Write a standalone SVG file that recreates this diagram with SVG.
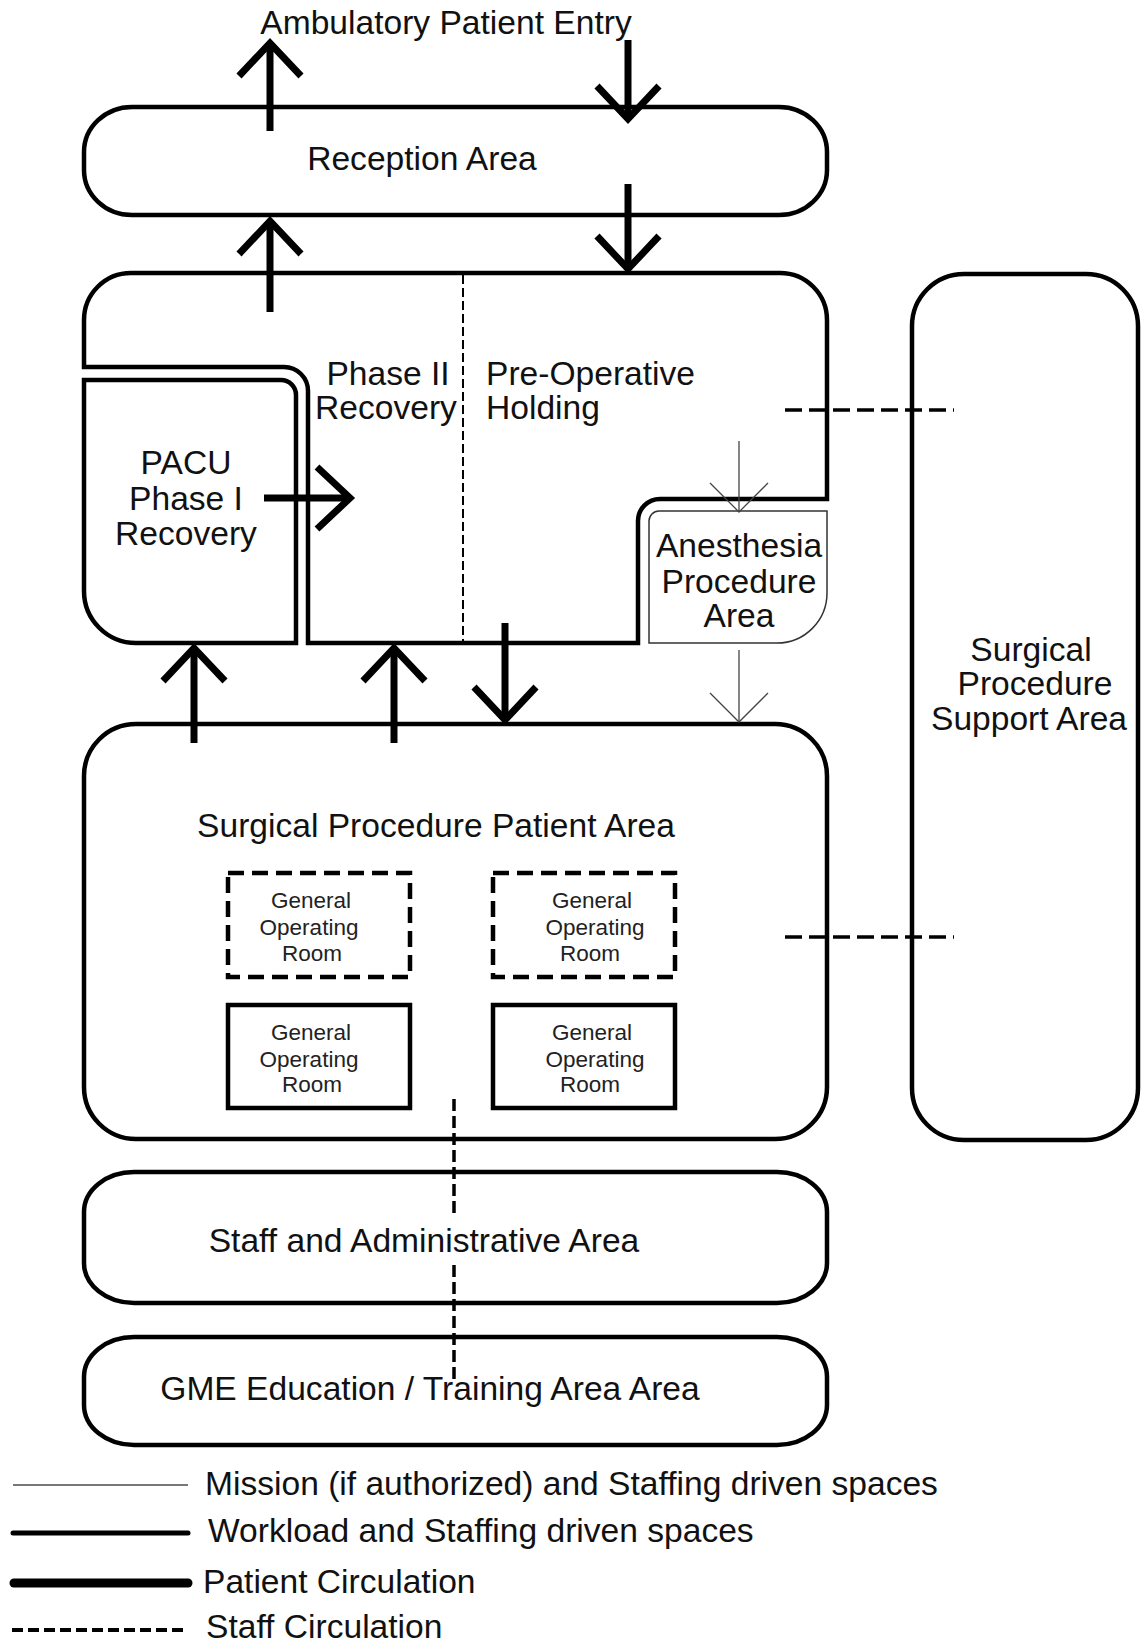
<svg xmlns="http://www.w3.org/2000/svg" width="1141" height="1642" viewBox="0 0 1141 1642">
<style>
text{font-family:"Liberation Sans",Arial,sans-serif;font-size:33.6px;fill:#111;text-anchor:middle}
.box{fill:none;stroke:#000;stroke-width:4.5}
.thin{fill:none;stroke:#333;stroke-width:1.5}
.ord{stroke-dasharray:16 8}
.orl{font-size:22.5px;fill:#222}
.pat{stroke:#000;stroke-width:7;fill:none;marker-end:url(#chev)}
.mis{stroke:#444;stroke-width:1.3;fill:none;marker-end:url(#chevThin)}
.staff{stroke:#000;stroke-width:3.5;stroke-dasharray:17 7;fill:none}
.vstaff{stroke:#000;stroke-width:3.5;stroke-dasharray:12 5;fill:none}
.div{stroke:#000;stroke-width:2;stroke-dasharray:9 4;fill:none}
.start{text-anchor:start}
</style>
<defs>
<marker id="chev" markerUnits="userSpaceOnUse" orient="auto" refX="0" refY="0" markerWidth="80" markerHeight="80" viewBox="-40 -40 80 80" overflow="visible">
<path d="M-33,-31 L0,0 L-33,31" fill="none" stroke="#000" stroke-width="7"/>
</marker>
<marker id="chevThin" markerUnits="userSpaceOnUse" orient="auto" refX="0" refY="0" markerWidth="80" markerHeight="80" viewBox="-40 -40 80 80" overflow="visible">
<path d="M-29,-29 L0,0 L-29,29" fill="none" stroke="#444" stroke-width="1.3"/>
</marker>
</defs>
<rect width="1141" height="1642" fill="#fff"/>

<text id="entry" x="446" y="34">Ambulatory Patient Entry</text>

<g id="reception">
<rect class="box" x="84" y="107" width="743" height="108" rx="48" ry="45"/>
<text x="422" y="170">Reception Area</text>
</g>

<g id="preop">
<path class="box" d="M84,320 A47,47 0 0 1 131,273 L780,273 A47,47 0 0 1 827,320 L827,499 L660,499 A22,22 0 0 0 638,521 L638,643 L308,643 L308,391 A24,24 0 0 0 284,367 L84,367 Z"/>
<line class="div" x1="463" y1="275" x2="463" y2="642"/>
<text x="388" y="385">Phase II<tspan x="386" dy="34">Recovery</tspan></text>
<text class="start" x="486" y="385">Pre-Operative<tspan x="486" dy="34">Holding</tspan></text>
</g>

<g id="pacu">
<path class="box" d="M84,380 L281,380 A15,15 0 0 1 296,395 L296,643 L136,643 A52,52 0 0 1 84,591 Z"/>
<text x="186" y="474">PACU<tspan x="186" dy="36">Phase I</tspan><tspan x="186" dy="35">Recovery</tspan></text>
</g>

<g id="anesthesia">
<path class="thin" d="M649,521 A10,10 0 0 1 659,511 L827,511 L827,593 A50,50 0 0 1 777,643 L649,643 Z"/>
<text x="739" y="557">Anesthesia<tspan x="739" dy="36">Procedure</tspan><tspan x="739" dy="34">Area</tspan></text>
</g>

<g id="support">
<rect class="box" x="912" y="274" width="226" height="866" rx="52" ry="52"/>
<text x="1031" y="661">Surgical<tspan x="1035" dy="34">Procedure</tspan><tspan x="1029" dy="35">Support Area</tspan></text>
</g>

<g id="surgical">
<rect class="box" x="84" y="724" width="743" height="415" rx="52" ry="52"/>
<text x="436" y="837">Surgical Procedure Patient Area</text>
</g>

<g id="or1">
<rect class="box ord" x="228" y="873" width="182" height="104"/>
<text class="orl" x="311" y="908">General<tspan x="309" dy="27">Operating</tspan><tspan x="312" dy="26">Room</tspan></text>
</g>
<g id="or2">
<rect class="box ord" x="493" y="873" width="182" height="104"/>
<text class="orl" x="592" y="908">General<tspan x="595" dy="27">Operating</tspan><tspan x="590" dy="26">Room</tspan></text>
</g>
<g id="or3">
<rect class="box" x="228" y="1005" width="182" height="103"/>
<text class="orl" x="311" y="1040">General<tspan x="309" dy="27">Operating</tspan><tspan x="312" dy="25">Room</tspan></text>
</g>
<g id="or4">
<rect class="box" x="493" y="1005" width="182" height="103"/>
<text class="orl" x="592" y="1040">General<tspan x="595" dy="27">Operating</tspan><tspan x="590" dy="25">Room</tspan></text>
</g>

<g id="staffadmin">
<rect class="box" x="84" y="1172" width="743" height="131" rx="50" ry="40"/>
<text x="424" y="1252">Staff and Administrative Area</text>
</g>

<g id="gme">
<rect class="box" x="84" y="1337" width="743" height="108" rx="50" ry="40"/>
<text x="430" y="1400">GME Education / Training Area Area</text>
</g>

<g id="connectors">
<line class="pat" x1="270" y1="131" x2="270" y2="43"/>
<line class="pat" x1="628" y1="40" x2="628" y2="119"/>
<line class="pat" x1="270" y1="312" x2="270" y2="221"/>
<line class="pat" x1="628" y1="184" x2="628" y2="269"/>
<line class="pat" x1="264" y1="498" x2="350" y2="498"/>
<line class="pat" x1="194" y1="743" x2="194" y2="648"/>
<line class="pat" x1="394" y1="743" x2="394" y2="648"/>
<line class="pat" x1="505" y1="623" x2="505" y2="720"/>
<line class="mis" x1="739" y1="441" x2="739" y2="512"/>
<line class="mis" x1="739" y1="650" x2="739" y2="722"/>
<line class="staff" x1="785" y1="410" x2="954" y2="410"/>
<line class="staff" x1="785" y1="937" x2="954" y2="937"/>
<line class="vstaff" x1="454" y1="1099" x2="454" y2="1213"/>
<line class="vstaff" x1="454" y1="1265" x2="454" y2="1380"/>
</g>

<g id="legend">
<line x1="13" y1="1485" x2="188" y2="1485" stroke="#777" stroke-width="2"/>
<text class="start" x="205" y="1495">Mission (if authorized) and Staffing driven spaces</text>
<line x1="13" y1="1533" x2="188" y2="1533" stroke="#000" stroke-width="5" stroke-linecap="round"/>
<text class="start" x="208" y="1542">Workload and Staffing driven spaces</text>
<line x1="14" y1="1583" x2="188" y2="1583" stroke="#000" stroke-width="9" stroke-linecap="round"/>
<text class="start" x="203" y="1593">Patient Circulation</text>
<line x1="12" y1="1630" x2="188" y2="1630" stroke="#000" stroke-width="4" stroke-dasharray="11 5"/>
<text class="start" x="206" y="1638">Staff Circulation</text>
</g>
</svg>
